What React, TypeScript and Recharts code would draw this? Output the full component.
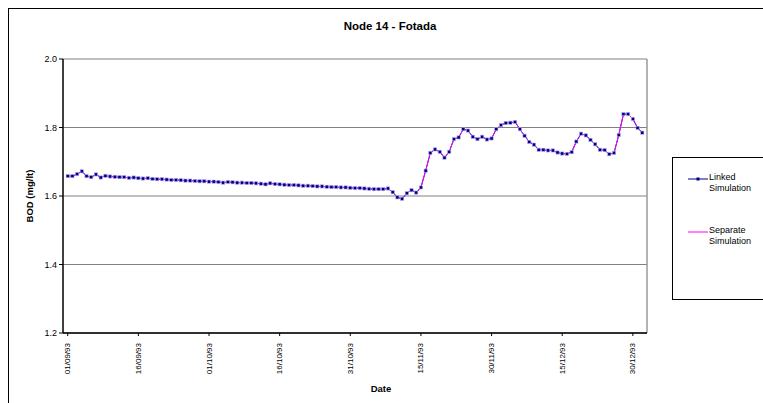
import { LineChart, Line, XAxis, YAxis, CartesianGrid, ReferenceLine } from 'recharts'

const FONT = '"Liberation Sans", Arial, sans-serif'

const TICK_DAYS = [0, 15, 30, 45, 60, 75, 90, 105, 120]
const TICK_LABELS = ['01/09/93', '16/09/93', '01/10/93', '16/10/93', '31/10/93', '15/11/93', '30/11/93', '15/12/93', '30/12/93']
const Y_TICKS = [1.2, 1.4, 1.6, 1.8, 2.0]

// daily BOD, 01/09/93 .. 01/01/94
const linked = [
  1.658, 1.658, 1.664, 1.672, 1.658, 1.655, 1.663, 1.654, 1.659, 1.657,
  1.656, 1.655, 1.655, 1.653, 1.654, 1.652, 1.651, 1.652, 1.650, 1.649,
  1.649, 1.648, 1.647, 1.647, 1.646, 1.645, 1.645, 1.644, 1.643, 1.643,
  1.642, 1.642, 1.641, 1.639, 1.641, 1.640, 1.639, 1.639, 1.638, 1.638,
  1.637, 1.636, 1.634, 1.637, 1.635, 1.634, 1.633, 1.632, 1.632, 1.631,
  1.630, 1.630, 1.629, 1.628, 1.628, 1.627, 1.626, 1.626, 1.625, 1.625,
  1.624, 1.623, 1.623, 1.622, 1.621, 1.620, 1.620, 1.620, 1.622, 1.611,
  1.596, 1.592, 1.608, 1.617, 1.610, 1.625, 1.674, 1.726, 1.736, 1.729,
  1.712, 1.729, 1.766, 1.771, 1.795, 1.791, 1.773, 1.766, 1.773, 1.765,
  1.768, 1.795, 1.807, 1.813, 1.814, 1.816, 1.795, 1.776, 1.758, 1.750,
  1.735, 1.735, 1.733, 1.733, 1.727, 1.724, 1.723, 1.728, 1.759, 1.782,
  1.777, 1.764, 1.751, 1.735, 1.734, 1.722, 1.726, 1.778, 1.839, 1.839,
  1.825, 1.799, 1.785,
]

const separate = [
  1.658, 1.658, 1.664, 1.672, 1.658, 1.655, 1.663, 1.654, 1.659, 1.657,
  1.656, 1.655, 1.655, 1.653, 1.654, 1.652, 1.651, 1.652, 1.650, 1.649,
  1.649, 1.648, 1.647, 1.647, 1.646, 1.645, 1.645, 1.644, 1.643, 1.643,
  1.642, 1.642, 1.641, 1.639, 1.641, 1.640, 1.639, 1.639, 1.638, 1.638,
  1.637, 1.636, 1.634, 1.637, 1.635, 1.634, 1.633, 1.632, 1.632, 1.631,
  1.630, 1.630, 1.629, 1.628, 1.628, 1.627, 1.626, 1.626, 1.625, 1.625,
  1.624, 1.623, 1.623, 1.622, 1.621, 1.620, 1.620, 1.620, 1.622, 1.611,
  1.596, 1.592, 1.608, 1.617, 1.610, 1.625, 1.674, 1.726, 1.736, 1.729,
  1.712, 1.729, 1.766, 1.771, 1.795, 1.791, 1.773, 1.766, 1.773, 1.765,
  1.768, 1.795, 1.807, 1.813, 1.814, 1.816, 1.795, 1.776, 1.758, 1.750,
  1.735, 1.735, 1.733, 1.733, 1.727, 1.724, 1.723, 1.728, 1.759, 1.782,
  1.777, 1.764, 1.751, 1.735, 1.734, 1.722, 1.726, 1.778, 1.839, 1.839,
  1.825, 1.799, 1.785,
]

const data = linked.map((v, i) => ({ day: i, linked: v, separate: separate[i] }))

const SquareDot = (props: any) => {
  const { cx, cy, index } = props
  if (cx == null || cy == null) return null
  return (
    <rect key={index} x={cx - 1.6} y={cy - 1.6} width={3.2} height={3.2}
      fill="#000080" stroke="#a8a8ee" strokeWidth={0.6} />
  )
}

const DateTick = (props: any) => {
  const { x, y, payload } = props
  const i = TICK_DAYS.indexOf(payload.value)
  return (
    <text x={x} y={y + 5} transform={`rotate(-90, ${x}, ${y + 5})`} textAnchor="end"
      dominantBaseline="central" fontSize={8} fontFamily={FONT} fill="#000">
      {TICK_LABELS[i]}
    </text>
  )
}

const LegendBox = () => (
  <div style={{
    position: 'absolute', left: 664, top: 149, width: 120, height: 143,
    boxSizing: 'border-box', borderTop: '1px solid #000', borderLeft: '1px solid #000',
    borderBottom: '1px solid #000',
    fontFamily: FONT, fontSize: 9, color: '#000', background: '#fff',
  }}>
    <div style={{ position: 'absolute', left: 14, top: 14, display: 'flex' }}>
      <svg width={22} height={12} style={{ marginTop: 1 }}>
        <line x1={1} y1={6} x2={21} y2={6} stroke="#000080" strokeWidth={1} />
        <rect x={9.5} y={4.5} width={3} height={3} fill="#000080" />
      </svg>
      <div style={{ lineHeight: '11px' }}>Linked<br />Simulation</div>
    </div>
    <div style={{ position: 'absolute', left: 14, top: 67, display: 'flex' }}>
      <svg width={22} height={12} style={{ marginTop: 1 }}>
        <line x1={1} y1={6} x2={21} y2={6} stroke="#ff00ff" strokeWidth={1} />
      </svg>
      <div style={{ lineHeight: '11px' }}>Separate<br />Simulation</div>
    </div>
  </div>
)

export default function App() {
  return (
    <div style={{
      position: 'fixed', left: 0, top: 0, width: 763, height: 403,
      overflow: 'hidden', background: '#fff',
    }}>
      <div style={{ position: 'absolute', left: 8, top: 8, width: 800, height: 420 }}>
        <div style={{
          position: 'absolute', left: 0, top: 0, width: 820, height: 460,
          borderTop: '1.5px solid #000', borderLeft: '1.5px solid #000', boxSizing: 'border-box',
        }} />
        <div style={{ position: 'absolute', left: 0, top: 0 }}>
          <LineChart width={755} height={395} data={data}
            margin={{ top: 51, right: 116, left: 0, bottom: 0 }}>
            <CartesianGrid horizontal vertical={false} stroke="#808080" strokeWidth={1} />
            <XAxis dataKey="day" type="number" domain={[-1, 123]} ticks={TICK_DAYS} interval={0}
              tick={<DateTick />} tickSize={3} height={70}
              axisLine={{ stroke: '#000', strokeWidth: 1.5 }} tickLine={{ stroke: '#000' }} />
            <YAxis domain={[1.2, 2.0]} ticks={Y_TICKS} interval={0} width={55} tickSize={4}
              tickFormatter={(v: number) => v.toFixed(1)}
              tick={{ fontSize: 9, fontFamily: FONT, fill: '#000' }}
              axisLine={{ stroke: '#000', strokeWidth: 1.5 }} tickLine={{ stroke: '#000' }} />
            <ReferenceLine x={123} stroke="#9a9a9a" strokeWidth={1.5} ifOverflow="visible" />
            <Line dataKey="linked" stroke="#000080" strokeWidth={1} dot={false}
              isAnimationActive={false} legendType="none" />
            <Line dataKey="separate" stroke="#ff00ff" strokeWidth={1} dot={false}
              isAnimationActive={false} legendType="none" />
            <Line dataKey="linked" stroke="none" dot={<SquareDot />} activeDot={false}
              isAnimationActive={false} legendType="none" />
          </LineChart>
        </div>
        <LegendBox />
        <svg width={755} height={395} style={{ position: 'absolute', left: 0, top: 0, pointerEvents: 'none' }}>
          <text x={382} y={22} textAnchor="middle" fontFamily={FONT} fontWeight="bold" fontSize={11.5}>
            Node 14 - Fotada
          </text>
          <text x={373} y={384} textAnchor="middle" fontFamily={FONT} fontWeight="bold" fontSize={9.5}>
            Date
          </text>
          <text x={25} y={188} textAnchor="middle" transform="rotate(-90, 25, 188)"
            fontFamily={FONT} fontWeight="bold" fontSize={9.5}>
            BOD (mg/lt)
          </text>
        </svg>
      </div>
    </div>
  )
}
